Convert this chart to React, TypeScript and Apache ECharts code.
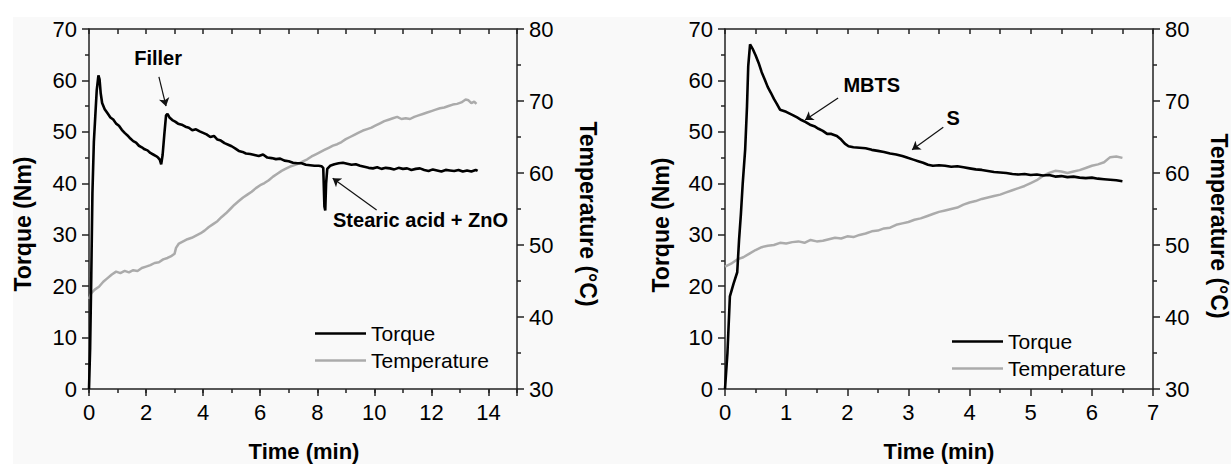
import React, { useEffect, useRef } from "react";
import * as echarts from "echarts";

// ---------- Data (left chart: mixing) ----------
const torqueA: [number, number][] = [
  [0, 0], [0.04, 8], [0.08, 22], [0.12, 38], [0.17, 48], [0.22, 53], [0.27, 58], [0.33, 61], [0.37, 60.2],
  [0.41, 57.5], [0.46, 55.6], [0.55, 54.4], [0.65, 53.6], [0.75, 52.8], [0.85, 52.4], [0.95, 51.6], [1.05, 51.2],
  [1.15, 50.4], [1.25, 49.8], [1.35, 49.3], [1.45, 48.7], [1.55, 48.2], [1.65, 47.9], [1.75, 47.3], [1.85, 47.0],
  [1.95, 46.6], [2.05, 46.4], [2.15, 45.9], [2.25, 45.6], [2.35, 45.3], [2.42, 45.0], [2.48, 44.6], [2.53, 43.7],
  [2.58, 45.5], [2.64, 49.5], [2.7, 53.2], [2.75, 53.5], [2.82, 52.8], [2.92, 52.3], [3.02, 52.0], [3.12, 51.6],
  [3.25, 51.4], [3.38, 51.0], [3.5, 50.8], [3.62, 50.3], [3.75, 50.5], [3.88, 50.1], [4.0, 49.8], [4.12, 49.5],
  [4.25, 49.0], [4.38, 49.2], [4.5, 48.5], [4.62, 48.3], [4.75, 47.8], [4.88, 47.5], [5.0, 47.2], [5.12, 46.8],
  [5.25, 46.3], [5.38, 46.1], [5.5, 45.8], [5.65, 45.7], [5.8, 45.5], [5.95, 45.3], [6.1, 45.6], [6.25, 45.0],
  [6.4, 44.9], [6.55, 44.7], [6.7, 44.8], [6.85, 44.4], [7.0, 44.3], [7.15, 44.0], [7.3, 43.9], [7.45, 43.9],
  [7.6, 43.6], [7.75, 43.5], [7.9, 43.4], [8.05, 43.4], [8.15, 43.3], [8.21, 43.0], [8.25, 35.5], [8.28, 34.7],
  [8.31, 40.0], [8.35, 42.8], [8.45, 43.4], [8.6, 43.7], [8.75, 43.9], [8.9, 44.0], [9.05, 43.8], [9.2, 43.6],
  [9.35, 43.7], [9.5, 43.4], [9.65, 43.2], [9.8, 43.0], [9.95, 42.9], [10.1, 43.1], [10.25, 42.8], [10.4, 43.0],
  [10.55, 42.9], [10.7, 42.7], [10.85, 43.0], [11.0, 42.8], [11.15, 42.9], [11.3, 42.6], [11.45, 42.8],
  [11.6, 42.9], [11.75, 42.6], [11.9, 42.4], [12.05, 42.7], [12.2, 42.5], [12.35, 42.3], [12.5, 42.6],
  [12.65, 42.5], [12.8, 42.4], [12.95, 42.6], [13.1, 42.3], [13.25, 42.5], [13.4, 42.3], [13.55, 42.6], [13.62, 42.4],
];

const tempA: [number, number][] = [
  [0, 42.5], [0.08, 43.3], [0.2, 43.8], [0.35, 44.2], [0.5, 44.9], [0.65, 45.4], [0.8, 45.9], [0.95, 46.3],
  [1.1, 46.1], [1.25, 46.4], [1.4, 46.2], [1.55, 46.5], [1.7, 46.4], [1.85, 46.8], [2.0, 47.0], [2.15, 47.2],
  [2.3, 47.5], [2.45, 47.6], [2.6, 48.0], [2.75, 48.2], [2.9, 48.5], [3.0, 48.8], [3.05, 49.6], [3.15, 50.2],
  [3.3, 50.5], [3.45, 50.8], [3.6, 51.0], [3.75, 51.3], [3.9, 51.6], [4.05, 52.0], [4.2, 52.5], [4.35, 52.9],
  [4.5, 53.3], [4.65, 53.9], [4.8, 54.4], [4.95, 55.0], [5.1, 55.6], [5.25, 56.1], [5.4, 56.6], [5.55, 57.0],
  [5.7, 57.4], [5.85, 57.9], [6.0, 58.3], [6.15, 58.6], [6.3, 59.0], [6.45, 59.5], [6.6, 59.9], [6.75, 60.3],
  [6.9, 60.6], [7.05, 60.9], [7.2, 61.1], [7.35, 61.3], [7.5, 61.6], [7.65, 61.9], [7.8, 62.3], [7.95, 62.6],
  [8.1, 62.9], [8.25, 63.2], [8.4, 63.5], [8.55, 63.8], [8.7, 64.0], [8.85, 64.3], [9.0, 64.7], [9.15, 65.0],
  [9.3, 65.3], [9.45, 65.6], [9.6, 65.9], [9.75, 66.1], [9.9, 66.3], [10.05, 66.6], [10.2, 66.9], [10.35, 67.2],
  [10.5, 67.4], [10.65, 67.6], [10.8, 67.8], [10.95, 67.5], [11.1, 67.6], [11.25, 67.5], [11.4, 67.8],
  [11.55, 68.0], [11.7, 68.2], [11.85, 68.4], [12.0, 68.6], [12.15, 68.8], [12.3, 69.0], [12.45, 69.1],
  [12.6, 69.3], [12.75, 69.5], [12.9, 69.6], [13.05, 69.8], [13.2, 70.2], [13.3, 70.1], [13.4, 69.7],
  [13.5, 69.9], [13.58, 69.6],
];

// ---------- Data (right chart: curatives) ----------
const torqueB: [number, number][] = [
  [0, 0], [0.04, 7], [0.08, 18], [0.14, 20.5], [0.2, 22.7], [0.23, 29], [0.26, 34], [0.29, 40], [0.33, 46.6],
  [0.36, 55], [0.38, 62.8], [0.41, 67], [0.45, 66.2], [0.5, 64.9], [0.55, 63.4], [0.6, 61.6], [0.65, 60.2],
  [0.7, 58.7], [0.75, 57.6], [0.8, 56.4], [0.85, 55.4], [0.9, 54.3], [0.95, 54.1], [1.0, 53.9], [1.05, 53.6],
  [1.1, 53.3], [1.18, 52.8], [1.25, 52.3], [1.32, 51.9], [1.39, 51.4], [1.46, 51.1], [1.53, 50.6], [1.6, 50.2],
  [1.67, 49.6], [1.74, 49.6], [1.83, 49.2], [1.9, 48.5], [1.96, 47.7], [2.02, 47.2], [2.1, 47.0], [2.2, 46.9],
  [2.3, 46.8], [2.4, 46.5], [2.5, 46.3], [2.6, 46.1], [2.7, 45.8], [2.8, 45.6], [2.9, 45.3], [3.0, 44.9],
  [3.08, 44.6], [3.16, 44.3], [3.24, 44.0], [3.32, 43.6], [3.4, 43.4], [3.5, 43.5], [3.6, 43.4], [3.7, 43.2],
  [3.8, 43.3], [3.9, 43.1], [4.0, 42.9], [4.1, 42.7], [4.2, 42.6], [4.3, 42.4], [4.4, 42.2], [4.5, 42.1],
  [4.6, 42.0], [4.7, 41.8], [4.8, 41.7], [4.9, 41.8], [5.0, 41.6], [5.1, 41.7], [5.2, 41.5], [5.3, 41.6],
  [5.4, 41.3], [5.5, 41.4], [5.6, 41.2], [5.7, 41.3], [5.8, 41.1], [5.9, 41.0], [6.0, 41.1], [6.1, 40.9],
  [6.2, 40.8], [6.3, 40.7], [6.4, 40.6], [6.5, 40.4],
];

const tempB: [number, number][] = [
  [0, 47.0], [0.1, 47.4], [0.2, 48.0], [0.3, 48.3], [0.4, 48.8], [0.5, 49.3], [0.6, 49.7], [0.7, 49.9],
  [0.8, 50.0], [0.9, 50.3], [1.0, 50.2], [1.1, 50.4], [1.2, 50.5], [1.3, 50.3], [1.4, 50.7], [1.5, 50.5],
  [1.6, 50.6], [1.7, 50.8], [1.8, 51.0], [1.9, 50.9], [2.0, 51.2], [2.1, 51.1], [2.2, 51.4], [2.3, 51.6],
  [2.4, 51.9], [2.5, 52.0], [2.6, 52.3], [2.7, 52.4], [2.8, 52.8], [2.9, 53.0], [3.0, 53.2], [3.1, 53.5],
  [3.2, 53.7], [3.3, 54.0], [3.4, 54.3], [3.5, 54.6], [3.6, 54.8], [3.7, 55.0], [3.8, 55.2], [3.9, 55.6],
  [4.0, 55.9], [4.1, 56.1], [4.2, 56.4], [4.3, 56.6], [4.4, 56.8], [4.5, 57.0], [4.6, 57.3], [4.7, 57.6],
  [4.8, 57.9], [4.9, 58.2], [5.0, 58.6], [5.1, 59.0], [5.2, 59.6], [5.3, 60.0], [5.4, 60.3], [5.5, 60.2],
  [5.6, 60.0], [5.7, 60.2], [5.8, 60.4], [5.9, 60.7], [6.0, 61.0], [6.1, 61.2], [6.2, 61.5], [6.3, 62.2],
  [6.4, 62.3], [6.5, 62.1],
];

// ---------- Annotations (data coordinates on torque axes) ----------
const labelsA = [
  { name: "Filler", value: [2.42, 64.4] },
  { name: "Stearic acid + ZnO", value: [11.62, 32.9] },
];
const arrowsA = [
  { coords: [[2.45, 60.7], [2.7, 55.0]] },
  { coords: [[10.08, 34.8], [8.54, 41.0]] },
];
const labelsB = [
  { name: "MBTS", value: [2.4, 59.1] },
  { name: "S", value: [3.73, 52.7] },
];
const arrowsB = [
  { coords: [[1.85, 56.6], [1.31, 52.3]] },
  { coords: [[3.57, 50.9], [3.06, 46.5]] },
];

const legendNames = ["Torque", "Temperature"];
const xTitle = "Time (min)";
const yLeftTitle = "Torque (Nm)";
const yRightTitle = "Temperature (°C)";

const FONT = "'Liberation Sans', Arial, sans-serif";
const AXIS_COLOR = "#222";
const TEXT_COLOR = "#000";
const TORQUE_COLOR = "#000";
const TEMP_COLOR = "#ababab";

function axisBase() {
  return {
    type: "value" as const,
    splitLine: { show: false },
    minorSplitLine: { show: false },
    axisLine: { show: true, onZero: false, lineStyle: { color: AXIS_COLOR, width: 1.5 } },
    axisTick: { show: true, inside: false, length: 7, lineStyle: { color: AXIS_COLOR, width: 1.5 } },
    axisLabel: { show: true, color: TEXT_COLOR, fontSize: 22, fontFamily: FONT, margin: 12 },
  };
}

function title(text: string, x: number, y: number, rotation: number, size: number) {
  return {
    type: "text",
    x,
    y,
    rotation,
    silent: true,
    z: 10,
    style: {
      text,
      fill: TEXT_COLOR,
      font: `bold ${size}px ${FONT}`,
      textAlign: "center",
      textVerticalAlign: "middle",
    },
  };
}

export default function App() {
  const ref = useRef<HTMLDivElement>(null);

  useEffect(() => {
    if (!ref.current) return;
    const chart = echarts.init(ref.current, undefined, { renderer: "svg" });

    const minor = { show: true, splitNumber: 2, length: 4, lineStyle: { color: AXIS_COLOR, width: 1.5 } };
    const annLabel = {
      show: true,
      position: "inside",
      formatter: "{b}",
      fontSize: 20,
      fontWeight: "bold",
      color: TEXT_COLOR,
      fontFamily: FONT,
      textBorderWidth: 0,
      textBorderColor: "transparent",
      opacity: 1,
    };

    const option: any = {
      animation: false,
      backgroundColor: "#ffffff",
      graphic: [
        {
          type: "rect",
          z: -10,
          silent: true,
          shape: { x: 13, y: 17, width: 1218, height: 447 },
          style: { fill: "#f9f9f9" },
        },
        title(xTitle, 304, 451, 0, 22),
        title(xTitle, 939, 451, 0, 22),
        title(yLeftTitle, 23, 224, Math.PI / 2, 23),
        title(yLeftTitle, 661, 225, Math.PI / 2, 23),
        title(yRightTitle, 588, 214, -Math.PI / 2, 23),
        title(yRightTitle, 1219, 226, -Math.PI / 2, 23),
      ],
      grid: [
        { left: 89, top: 29, width: 428, height: 360 },
        { left: 725, top: 29, width: 428, height: 360 },
      ],
      xAxis: [
        {
          ...axisBase(),
          gridIndex: 0,
          position: "bottom",
          min: 0,
          max: 15,
          interval: 2,
          axisLabel: {
            ...axisBase().axisLabel,
            formatter: (v: number) => (v === 15 ? "" : String(v)),
          },
        },
        {
          ...axisBase(),
          gridIndex: 0,
          position: "bottom",
          min: 0,
          max: 15,
          interval: 1,
          axisLine: { show: false },
          axisTick: { show: true, length: 4, lineStyle: { color: AXIS_COLOR, width: 1.5 } },
          axisLabel: { show: false },
        },
        {
          ...axisBase(),
          gridIndex: 0,
          position: "top",
          min: 0,
          max: 15,
          interval: 1,
          axisTick: { show: true, inside: true, length: 5, lineStyle: { color: AXIS_COLOR, width: 1.5 } },
          axisLabel: { show: false },
        },
        {
          ...axisBase(),
          gridIndex: 1,
          position: "bottom",
          min: 0,
          max: 7,
          interval: 1,
          minorTick: minor,
        },
        {
          ...axisBase(),
          gridIndex: 1,
          position: "top",
          min: 0,
          max: 7,
          interval: 0.5,
          axisTick: { show: true, inside: true, length: 5, lineStyle: { color: AXIS_COLOR, width: 1.5 } },
          axisLabel: { show: false },
        },
      ],
      yAxis: [
        { ...axisBase(), gridIndex: 0, position: "left", min: 0, max: 70, interval: 10, minorTick: minor },
        { ...axisBase(), gridIndex: 0, position: "right", min: 30, max: 80, interval: 10, minorTick: minor },
        { ...axisBase(), gridIndex: 1, position: "left", min: 0, max: 70, interval: 10, minorTick: minor },
        { ...axisBase(), gridIndex: 1, position: "right", min: 30, max: 80, interval: 10, minorTick: minor },
      ],
      legend: [
        {
          data: legendNames,
          orient: "vertical",
          left: 310,
          top: 318,
          icon: "rect",
          itemWidth: 51,
          itemHeight: 2.5,
          itemGap: 6,
          selectedMode: false,
          textStyle: { fontSize: 21, color: TEXT_COLOR, fontFamily: FONT, lineHeight: 21 },
        },
        {
          data: legendNames,
          orient: "vertical",
          left: 947,
          top: 326,
          icon: "rect",
          itemWidth: 51,
          itemHeight: 2.5,
          itemGap: 6,
          selectedMode: false,
          textStyle: { fontSize: 21, color: TEXT_COLOR, fontFamily: FONT, lineHeight: 21 },
        },
      ],
      series: [
        {
          name: "Temperature",
          type: "line",
          xAxisIndex: 0,
          yAxisIndex: 1,
          data: tempA,
          showSymbol: false,
          color: TEMP_COLOR,
          lineStyle: { width: 2.5, color: TEMP_COLOR },
          z: 2,
        },
        {
          name: "Torque",
          type: "line",
          xAxisIndex: 0,
          yAxisIndex: 0,
          data: torqueA,
          showSymbol: false,
          color: TORQUE_COLOR,
          lineStyle: { width: 2.6, color: TORQUE_COLOR },
          z: 3,
        },
        {
          name: "Temperature",
          type: "line",
          xAxisIndex: 3,
          yAxisIndex: 3,
          data: tempB,
          showSymbol: false,
          color: TEMP_COLOR,
          lineStyle: { width: 2.5, color: TEMP_COLOR },
          z: 2,
        },
        {
          name: "Torque",
          type: "line",
          xAxisIndex: 3,
          yAxisIndex: 2,
          data: torqueB,
          showSymbol: false,
          color: TORQUE_COLOR,
          lineStyle: { width: 2.6, color: TORQUE_COLOR },
          z: 3,
        },
        {
          name: "arrowsA",
          type: "lines",
          coordinateSystem: "cartesian2d",
          xAxisIndex: 0,
          yAxisIndex: 0,
          data: arrowsA,
          symbol: ["none", "arrow"],
          symbolSize: [0, 8],
          lineStyle: { color: "#111", width: 1.2, opacity: 1 },
          z: 5,
        },
        {
          name: "arrowsB",
          type: "lines",
          coordinateSystem: "cartesian2d",
          xAxisIndex: 3,
          yAxisIndex: 2,
          data: arrowsB,
          symbol: ["none", "arrow"],
          symbolSize: [0, 8],
          lineStyle: { color: "#111", width: 1.2, opacity: 1 },
          z: 5,
        },
        {
          name: "labelsA",
          type: "scatter",
          xAxisIndex: 0,
          yAxisIndex: 0,
          data: labelsA,
          symbolSize: 1,
          itemStyle: { color: "rgba(0,0,0,0)" },
          label: annLabel,
          z: 6,
        },
        {
          name: "labelsB",
          type: "scatter",
          xAxisIndex: 3,
          yAxisIndex: 2,
          data: labelsB,
          symbolSize: 1,
          itemStyle: { color: "rgba(0,0,0,0)" },
          label: annLabel,
          z: 6,
        },
      ],
    };

    chart.setOption(option);
    return () => chart.dispose();
  }, []);

  return (
    <div
      ref={ref}
      style={{ position: "fixed", left: 0, top: 0, width: 1231, height: 464, background: "#fff" }}
    />
  );
}
